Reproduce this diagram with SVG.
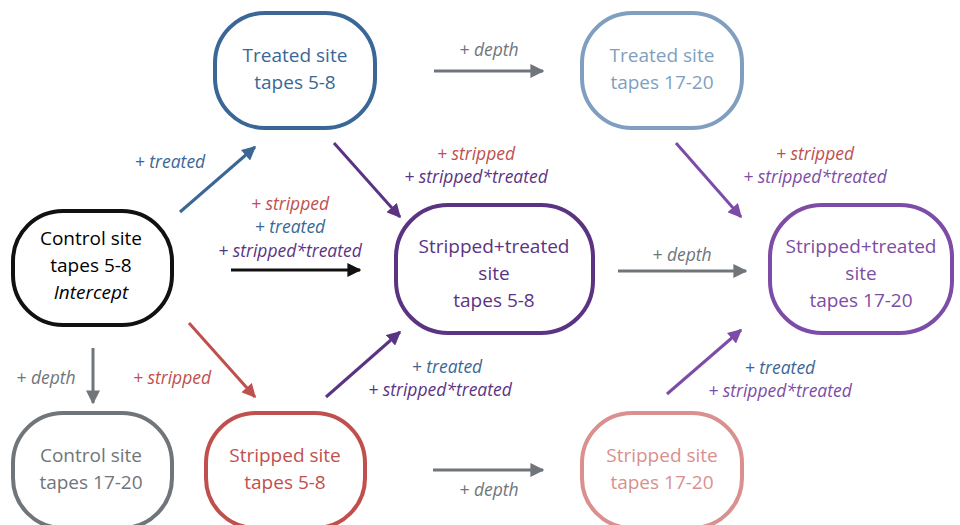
<svg xmlns="http://www.w3.org/2000/svg" width="960" height="525" viewBox="0 0 960 525">
<style>
.node{fill:#fff;stroke-width:4}
.nt{font-family:"Open Sans","Noto Sans",sans-serif;font-size:19px;text-anchor:middle}
.lb{font-family:"Open Sans","Noto Sans",sans-serif;font-size:17.5px;font-style:italic;text-anchor:middle}
.cn{fill:none;stroke-width:3}
</style>
<defs>
<marker id="mk" viewBox="0 0 10 10" refX="9" refY="5" markerWidth="14" markerHeight="14" markerUnits="userSpaceOnUse" orient="auto"><path d="M0,0 L10,5 L0,10 z" fill="#111"/></marker>
<marker id="mb" viewBox="0 0 10 10" refX="9" refY="5" markerWidth="14" markerHeight="14" markerUnits="userSpaceOnUse" orient="auto"><path d="M0,0 L10,5 L0,10 z" fill="#3a6796"/></marker>
<marker id="mr" viewBox="0 0 10 10" refX="9" refY="5" markerWidth="14" markerHeight="14" markerUnits="userSpaceOnUse" orient="auto"><path d="M0,0 L10,5 L0,10 z" fill="#c0504d"/></marker>
<marker id="mg" viewBox="0 0 10 10" refX="9" refY="5" markerWidth="14" markerHeight="14" markerUnits="userSpaceOnUse" orient="auto"><path d="M0,0 L10,5 L0,10 z" fill="#70757a"/></marker>
<marker id="mp" viewBox="0 0 10 10" refX="9" refY="5" markerWidth="14" markerHeight="14" markerUnits="userSpaceOnUse" orient="auto"><path d="M0,0 L10,5 L0,10 z" fill="#5b3383"/></marker>
<marker id="ml" viewBox="0 0 10 10" refX="9" refY="5" markerWidth="14" markerHeight="14" markerUnits="userSpaceOnUse" orient="auto"><path d="M0,0 L10,5 L0,10 z" fill="#7d4ca6"/></marker>
</defs>
<rect width="960" height="525" fill="#fff"/>

<g id="connectors">
<line class="cn" x1="180" y1="212" x2="255" y2="147" stroke="#3a6796" marker-end="url(#mb)"/>
<line class="cn" x1="231" y1="270" x2="360" y2="270" stroke="#111" marker-end="url(#mk)"/>
<line class="cn" x1="189" y1="323" x2="255" y2="397" stroke="#c0504d" marker-end="url(#mr)"/>
<line class="cn" x1="93" y1="348" x2="93" y2="403" stroke="#70757a" marker-end="url(#mg)"/>
<line class="cn" x1="434" y1="71" x2="543" y2="71" stroke="#70757a" marker-end="url(#mg)"/>
<line class="cn" x1="334" y1="143" x2="400" y2="217" stroke="#5b3383" marker-end="url(#mp)"/>
<line class="cn" x1="326" y1="397" x2="400" y2="332" stroke="#5b3383" marker-end="url(#mp)"/>
<line class="cn" x1="618" y1="271" x2="746" y2="271" stroke="#70757a" marker-end="url(#mg)"/>
<line class="cn" x1="676" y1="143" x2="741" y2="217" stroke="#7d4ca6" marker-end="url(#ml)"/>
<line class="cn" x1="667" y1="394" x2="741" y2="330" stroke="#7d4ca6" marker-end="url(#ml)"/>
<line class="cn" x1="433" y1="470" x2="543" y2="470" stroke="#70757a" marker-end="url(#mg)"/>

<text class="lb" x="170" y="168" fill="#3a6796">+ treated</text>
<text class="lb" x="290" y="210" fill="#c0504d">+ stripped</text>
<text class="lb" x="290" y="233" fill="#3a6796">+ treated</text>
<text class="lb" x="290" y="257" fill="#5b3383">+ stripped*treated</text>
<text class="lb" x="172" y="384" fill="#c0504d">+ stripped</text>
<text class="lb" x="46" y="384" fill="#70757a">+ depth</text>
<text class="lb" x="489" y="56" fill="#70757a">+ depth</text>
<text class="lb" x="476" y="160" fill="#c0504d">+ stripped</text>
<text class="lb" x="476" y="183" fill="#5b3383">+ stripped*treated</text>
<text class="lb" x="447" y="373" fill="#3a6796">+ treated</text>
<text class="lb" x="440" y="396" fill="#5b3383">+ stripped*treated</text>
<text class="lb" x="682" y="261" fill="#70757a">+ depth</text>
<text class="lb" x="815" y="160" fill="#c0504d">+ stripped</text>
<text class="lb" x="815" y="183" fill="#7d4ca6">+ stripped*treated</text>
<text class="lb" x="780" y="374" fill="#3a6796">+ treated</text>
<text class="lb" x="780" y="397" fill="#7d4ca6">+ stripped*treated</text>
<text class="lb" x="489" y="496" fill="#70757a">+ depth</text>
</g>

<g id="control58">
<rect class="node" x="13" y="211" width="159" height="114" rx="50" stroke="#111"/>
<text class="nt" x="91" y="245" fill="#000">Control site</text>
<text class="nt" x="91" y="272" fill="#000">tapes 5-8</text>
<text class="nt" x="91" y="299" fill="#000" font-style="italic">Intercept</text>
</g>
<g id="treated58">
<rect class="node" x="215" y="13" width="160" height="115" rx="50" stroke="#3a6796"/>
<text class="nt" x="295" y="62" fill="#3a6796">Treated site</text>
<text class="nt" x="295" y="89" fill="#3a6796">tapes 5-8</text>
</g>
<g id="treated1720">
<rect class="node" x="582" y="13" width="160" height="115" rx="50" stroke="#809fc0"/>
<text class="nt" x="662" y="62" fill="#809fc0">Treated site</text>
<text class="nt" x="662" y="89" fill="#809fc0">tapes 17-20</text>
</g>
<g id="st58">
<rect class="node" x="396" y="205" width="197" height="128" rx="52" stroke="#5b3383"/>
<text class="nt" x="494" y="253" fill="#5b3383">Stripped+treated</text>
<text class="nt" x="494" y="280" fill="#5b3383">site</text>
<text class="nt" x="494" y="307" fill="#5b3383">tapes 5-8</text>
</g>
<g id="st1720">
<rect class="node" x="770" y="205" width="182" height="128" rx="52" stroke="#7d4ca6"/>
<text class="nt" x="861" y="253" fill="#7d4ca6">Stripped+treated</text>
<text class="nt" x="861" y="280" fill="#7d4ca6">site</text>
<text class="nt" x="861" y="307" fill="#7d4ca6">tapes 17-20</text>
</g>
<g id="control1720">
<rect class="node" x="13" y="413" width="159" height="115" rx="50" stroke="#70757a"/>
<text class="nt" x="91" y="462" fill="#70757a">Control site</text>
<text class="nt" x="91" y="489" fill="#70757a">tapes 17-20</text>
</g>
<g id="stripped58">
<rect class="node" x="206" y="413" width="159" height="115" rx="50" stroke="#c0504d"/>
<text class="nt" x="285" y="462" fill="#c0504d">Stripped site</text>
<text class="nt" x="285" y="489" fill="#c0504d">tapes 5-8</text>
</g>
<g id="stripped1720">
<rect class="node" x="582" y="413" width="160" height="115" rx="50" stroke="#d9908e"/>
<text class="nt" x="662" y="462" fill="#d9908e">Stripped site</text>
<text class="nt" x="662" y="489" fill="#d9908e">tapes 17-20</text>
</g>
</svg>
